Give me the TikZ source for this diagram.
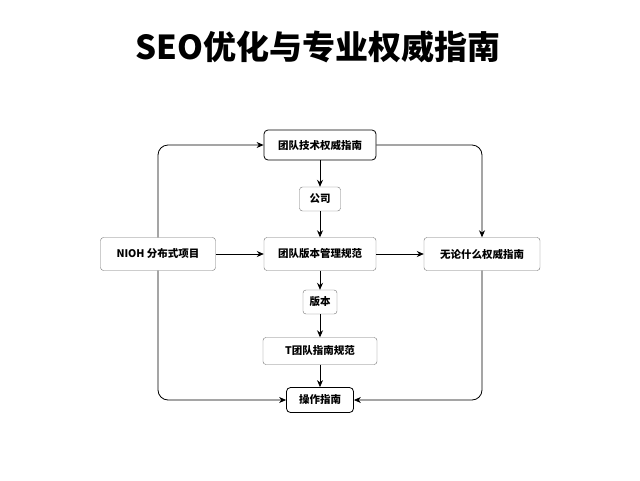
\documentclass[tikz,border=0pt]{standalone}
\usepackage{fontspec}
\setmainfont{Noto Sans CJK SC}
\newfontfamily\cjk{Noto Sans CJK SC}
\usetikzlibrary{arrows.meta,positioning}
\begin{document}
\begin{tikzpicture}[x=1pt, y=-1pt, >={Stealth[length=7pt, width=6pt]},
    main/.style={draw, thick, rounded corners=4pt, fill=white, font=\cjk\fontsize{10.5}{13}\selectfont\bfseries, inner sep=0pt},
    side/.style={draw=black!55, rounded corners=3pt, fill=white, font=\cjk\fontsize{10.5}{13}\selectfont\bfseries, inner sep=0pt},
    link/.style={thick, ->, rounded corners=10pt}]

    %% Background
    \draw[draw=none, fill=white] (0,0) rectangle (640,480);

    % Title
    \node (title) at (318,47) {\cjk\fontsize{33}{38}\selectfont\bfseries SEO优化与专业权威指南};

    % Boxes
    \node[main, minimum width=112pt, minimum height=30pt] (top) at (320,145) {团队技术权威指南};
    \node[side, minimum width=41pt, minimum height=24pt] (firm) at (320,199) {公司};
    \node[side, minimum width=112pt, minimum height=33pt] (mid) at (320,254) {团队版本管理规范};
    \node[side, minimum width=115pt, minimum height=33pt] (left) at (158,254) {NIOH 分布式项目};
    \node[side, minimum width=116pt, minimum height=33pt] (right) at (482,254) {无论什么权威指南};
    \node[side, minimum width=34pt, minimum height=24pt] (ver) at (320,302) {版本};
    \node[side, minimum width=114pt, minimum height=27pt] (team) at (320,351) {T团队指南规范};
    \node[main, minimum width=67pt, minimum height=25pt] (bot) at (320,400) {操作指南};

    % Arrows
    \draw[link] (top) -- (firm);
    \draw[link] (firm) -- (mid);
    \draw[link] (mid) -- (ver);
    \draw[link] (ver) -- (team);
    \draw[link] (team) -- (bot);
    \draw[link] (left) -- (mid);
    \draw[link] (mid) -- (right);
    \draw[link] (left.north) |- (top.west);
    \draw[link] (top.east) -| (right.north);
    \draw[link] (left.south) |- (bot.west);
    \draw[link] (right.south) |- (bot.east);

\end{tikzpicture}
\end{document}
